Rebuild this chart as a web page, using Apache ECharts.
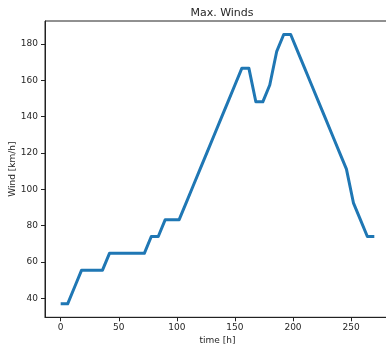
<!DOCTYPE html>
<html>
<head>
<meta charset="utf-8">
<script src="https://cdn.jsdelivr.net/npm/echarts@6/dist/echarts.min.js"></script>
<style>
  html, body { margin: 0; padding: 0; background: #fff; }
  #chart { width: 386px; height: 344px; }
</style>
</head>
<body>
<div id="chart"></div>
<script>
// Storm track: maximum sustained winds every 6 hours
const hours = [0, 6, 12, 18, 24, 30, 36, 42, 48, 54, 60, 66, 72, 78, 84, 90, 96, 102,
  108, 114, 120, 126, 132, 138, 144, 150, 156, 162, 168, 174, 180, 186, 192, 198,
  204, 210, 216, 222, 228, 234, 240, 246, 252, 258, 264, 270];
const windKmh = [37.04, 37.04, 46.30, 55.56, 55.56, 55.56, 55.56, 64.82, 64.82, 64.82,
  64.82, 64.82, 64.82, 74.08, 74.08, 83.34, 83.34, 83.34, 92.60, 101.86, 111.12,
  120.38, 129.64, 138.90, 148.16, 157.42, 166.68, 166.68, 148.16, 148.16, 157.42,
  175.94, 185.20, 185.20, 175.94, 166.68, 157.42, 148.16, 138.90, 129.64, 120.38,
  111.12, 92.60, 83.34, 74.08, 74.08];
const xTicks = [0, 50, 100, 150, 200, 250];
const yTicks = [40, 60, 80, 100, 120, 140, 160, 180];

// 5% padding around the data range on both axes
function padded(vals) {
  const lo = Math.min(...vals), hi = Math.max(...vals), m = (hi - lo) * 0.05;
  return [lo - m, hi + m];
}
const [xMin, xMax] = padded(hours);
const [yMin, yMax] = padded(windKmh);

const ink = '#262626';
const font = 'DejaVu Sans';
const spine = { show: true, onZero: false, lineStyle: { color: '#222', width: 1 } };

const chart = echarts.init(document.getElementById('chart'), null, { renderer: 'canvas' });
chart.setOption({
  animation: false,
  backgroundColor: '#fff',
  title: {
    text: 'Max. Winds',
    left: 217, top: 3, textAlign: 'center',
    textStyle: { fontFamily: font, fontSize: 11, fontWeight: 'normal', color: ink }
  },
  grid: {
    left: 45, top: 21, width: 345, height: 296.3,
    containLabel: false, outerBoundsMode: 'none',
    show: true, borderColor: '#222', borderWidth: 1
  },
  xAxis: {
    type: 'value', min: xMin, max: xMax,
    name: 'time [h]', nameLocation: 'middle', nameGap: 19, nameMoveOverlap: false,
    nameTextStyle: { fontFamily: font, fontSize: 9, color: ink },
    axisLine: spine,
    axisTick: { show: true, inside: false, length: 4, customValues: xTicks, lineStyle: { color: '#222' } },
    axisLabel: { customValues: xTicks, fontFamily: font, fontSize: 9, color: ink, margin: 6 },
    splitLine: { show: false }
  },
  yAxis: {
    type: 'value', min: yMin, max: yMax,
    name: 'Wind [km/h]', nameLocation: 'middle', nameGap: 28, nameMoveOverlap: false,
    nameTextStyle: { fontFamily: font, fontSize: 9, color: ink },
    axisLine: spine,
    axisTick: { show: true, inside: false, length: 4, customValues: yTicks, lineStyle: { color: '#222' } },
    axisLabel: { customValues: yTicks, fontFamily: font, fontSize: 9, color: ink, margin: 7 },
    splitLine: { show: false }
  },
  series: [{
    type: 'line',
    data: hours.map((h, i) => [h, windKmh[i]]),
    showSymbol: false,
    lineStyle: { color: '#1f77b4', width: 3, join: 'round', cap: 'butt' },
    itemStyle: { color: '#1f77b4' }
  }]
});
</script>
</body>
</html>
